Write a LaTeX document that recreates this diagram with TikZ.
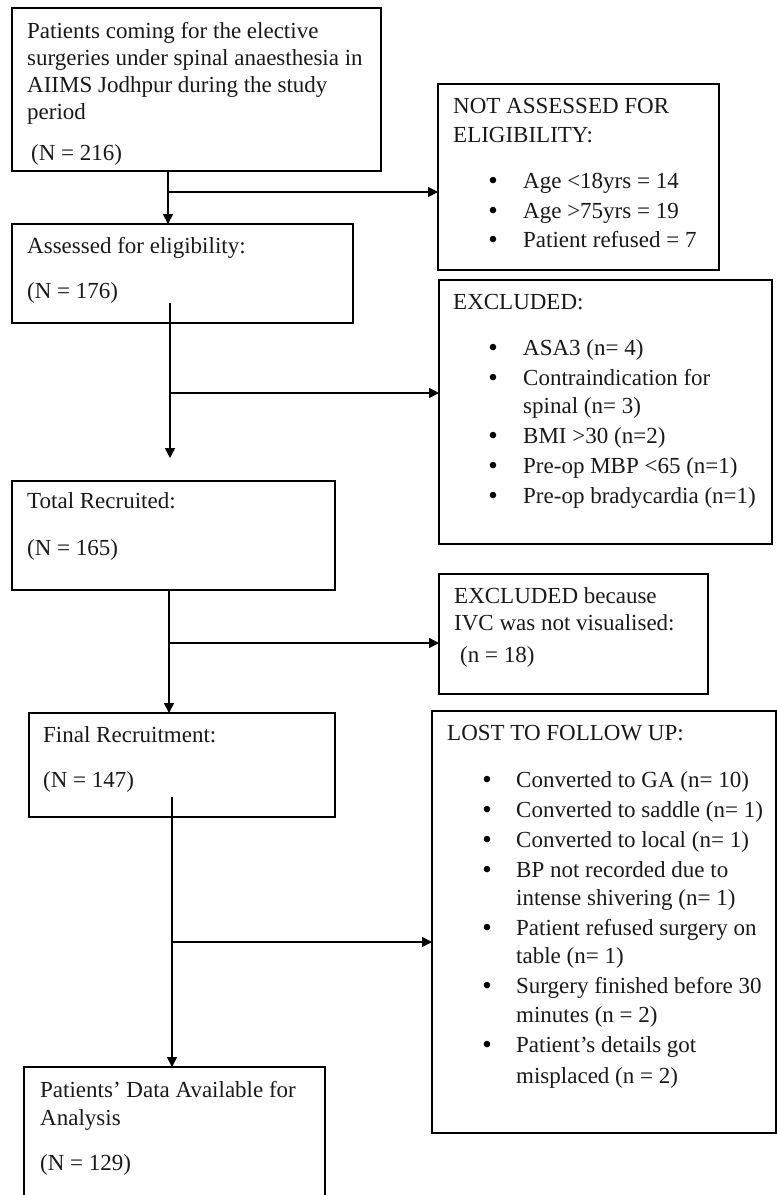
\documentclass[tikz,border=0pt]{standalone}
\usepackage{fontspec}
\setmainfont{Liberation Serif}
\usetikzlibrary{arrows.meta}
\begin{document}
\begin{tikzpicture}[x=1pt,y=-1pt,
  box/.style={draw, line width=1.8pt, anchor=north west, inner sep=0pt, outer sep=0pt},
  txt/.style={anchor=base west, inner sep=0pt, text=black!90, font=\fontsize{23}{27}\selectfont},
  bul/.style={anchor=base, inner sep=0pt, text=black, font=\fontsize{27}{27}\selectfont},
  conn/.style={line width=1.6pt},
  arr/.style={line width=1.6pt, -{Triangle[length=10pt,width=10pt]}}]
\useasboundingbox (0,0) rectangle (777,1195);

% boxes
\node[box, minimum width=369pt, minimum height=163pt] (b1) at (12,8) {};
\node[box, minimum width=341pt, minimum height=99pt] (b2) at (12,224) {};
\node[box, minimum width=323pt, minimum height=109pt] (b3) at (12,481) {};
\node[box, minimum width=306pt, minimum height=104pt] (b4) at (29,713) {};
\node[box, minimum width=301pt, minimum height=134pt] (b5) at (24,1067) {};
\node[box, minimum width=281pt, minimum height=186pt] (na) at (438,84) {};
\node[box, minimum width=333pt, minimum height=264pt] (ex) at (439,280) {};
\node[box, minimum width=269pt, minimum height=120pt] (ivc) at (439,574) {};
\node[box, minimum width=344pt, minimum height=422pt] (lost) at (432,711) {};

% texts: left column
\node[txt] (t1a) at (27,38) {Patients coming for the elective};
\node[txt] (t1b) at (27,65) {surgeries under spinal anaesthesia in};
\node[txt] (t1c) at (27,92) {AIIMS Jodhpur during the study};
\node[txt] (t1d) at (27,119) {period};
\node[txt] (t1e) at (31,160) {(N = 216)};
\node[txt] (t2a) at (27,253) {Assessed for eligibility:};
\node[txt] (t2b) at (27,298) {(N = 176)};
\node[txt] (t3a) at (27,508) {Total Recruited:};
\node[txt] (t3b) at (27,555) {(N = 165)};
\node[txt] (t4a) at (43,742) {Final Recruitment:};
\node[txt] (t4b) at (43,787) {(N = 147)};
\node[txt] (t5a) at (40,1097) {Patients’ Data Available for};
\node[txt] (t5b) at (40,1125) {Analysis};
\node[txt] (t5c) at (40,1170) {(N = 129)};

% not assessed
\node[txt] (nah1) at (453,113) {NOT ASSESSED FOR};
\node[txt] (nah2) at (453,142) {ELIGIBILITY:};
\node[bul] (nab1) at (493,189) {•};
\node[txt] (nat1) at (523,188) {Age <18yrs = 14};
\node[bul] (nab2) at (493,219) {•};
\node[txt] (nat2) at (523,218) {Age >75yrs = 19};
\node[bul] (nab3) at (493,248) {•};
\node[txt] (nat3) at (523,247) {Patient refused = 7};

% excluded
\node[txt] (exh) at (453,309) {EXCLUDED:};
\node[bul] (exb1) at (493,356) {•};
\node[txt] (ext1) at (523,355) {ASA3 (n= 4)};
\node[bul] (exb2) at (493,386) {•};
\node[txt] (ext2) at (523,385) {Contraindication for};
\node[txt] (ext2b) at (523,413) {spinal (n= 3)};
\node[bul] (exb3) at (493,444) {•};
\node[txt] (ext3) at (523,443) {BMI >30 (n=2)};
\node[bul] (exb4) at (493,474) {•};
\node[txt] (ext4) at (523,473) {Pre-op MBP <65 (n=1)};
\node[bul] (exb5) at (493,504) {•};
\node[txt] (ext5) at (523,503) {Pre-op bradycardia (n=1)};

% ivc
\node[txt] (ivh1) at (454,603) {EXCLUDED because};
\node[txt] (ivh2) at (454,630) {IVC was not visualised:};
\node[txt] (ivt) at (460,662) {(n = 18)};

% lost
\node[txt] (loh) at (447,740) {LOST TO FOLLOW UP:};
\node[bul] (lob1) at (487,788) {•};
\node[txt] (lot1) at (516,787) {Converted to GA (n= 10)};
\node[bul] (lob2) at (487,818) {•};
\node[txt] (lot2) at (516,817) {Converted to saddle (n= 1)};
\node[bul] (lob3) at (487,848) {•};
\node[txt] (lot3) at (516,847) {Converted to local (n= 1)};
\node[bul] (lob4) at (487,878) {•};
\node[txt] (lot4) at (516,877) {BP not recorded due to};
\node[txt] (lot4b) at (516,905) {intense shivering (n= 1)};
\node[bul] (lob5) at (487,936) {•};
\node[txt] (lot5) at (516,935) {Patient refused surgery on};
\node[txt] (lot5b) at (516,963) {table (n= 1)};
\node[bul] (lob6) at (487,994) {•};
\node[txt] (lot6) at (516,993) {Surgery finished before 30};
\node[txt] (lot6b) at (516,1022) {minutes (n = 2)};
\node[bul] (lob7) at (487,1053) {•};
\node[txt] (lot7) at (516,1052) {Patient’s details got};
\node[txt] (lot7b) at (516,1083) {misplaced (n = 2)};

% connectors
\coordinate (j1) at (168,192);
\coordinate (s2) at (170,303);
\coordinate (j2) at (170,393);
\coordinate (e2) at (170,458);
\coordinate (j3) at (169,643);
\coordinate (s4) at (172,797);
\coordinate (j4) at (172,942);

\draw[conn] (b1.south -| j1) -- (j1);
\draw[arr] (j1) -- (b2.north -| j1);
\draw[arr] (j1) -- (na.west |- j1);
\draw[conn] (s2) -- (j2);
\draw[arr] (j2) -- (e2);
\draw[arr] (j2) -- (ex.west |- j2);
\draw[conn] (b3.south -| j3) -- (j3);
\draw[arr] (j3) -- (b4.north -| j3);
\draw[arr] (j3) -- (ivc.west |- j3);
\draw[conn] (s4) -- (j4);
\draw[arr] (j4) -- (b5.north -| j4);
\draw[arr] (j4) -- (lost.west |- j4);
\end{tikzpicture}
\end{document}
